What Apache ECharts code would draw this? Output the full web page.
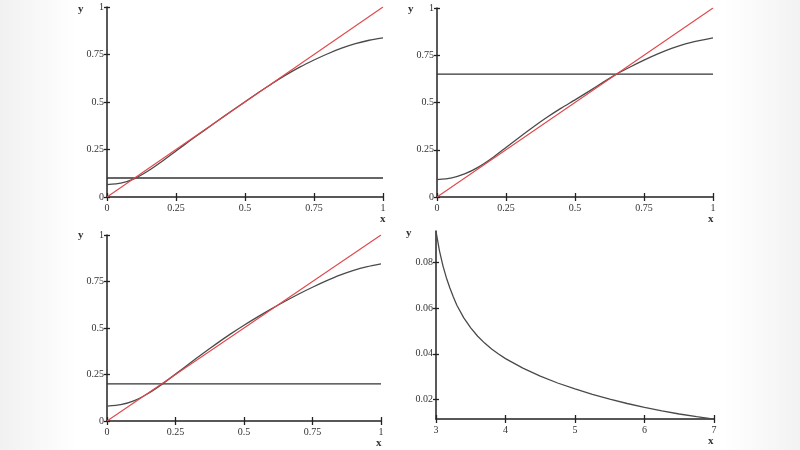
<!DOCTYPE html>
<html><head><meta charset="utf-8">
<script src="https://cdn.jsdelivr.net/npm/echarts@6/dist/echarts.min.js"></script>
<style>html,body{margin:0;padding:0;background:#fff}#c{width:800px;height:450px}</style>
</head><body><div id="c"></div>
<script>
// ---- data ----
const xsUnit = [0,0.05,0.1,0.15,0.2,0.25,0.3,0.35,0.4,0.45,0.5,0.55,0.6,0.65,0.7,0.75,0.8,0.85,0.9,0.95,1.0];
const curveA = [0.065,0.073,0.097,0.138,0.188,0.242,0.296,0.348,0.400,0.451,0.501,0.551,0.599,0.644,0.685,0.721,0.754,0.783,0.807,0.825,0.838];
const curveB = [0.092,0.100,0.122,0.158,0.206,0.262,0.318,0.372,0.423,0.470,0.514,0.559,0.605,0.650,0.688,0.724,0.757,0.786,0.810,0.827,0.842];
const curveC = [0.080,0.088,0.110,0.148,0.197,0.252,0.308,0.363,0.416,0.467,0.515,0.560,0.603,0.644,0.683,0.719,0.753,0.784,0.810,0.830,0.845];
const levelA = 0.1, levelB = 0.65, levelC = 0.2;
const diagX = [0, 1], diagY = [0, 1];
const xsD = [3,3.05,3.1,3.15,3.2,3.25,3.3,3.4,3.5,3.6,3.7,3.8,3.9,4.0,4.25,4.5,4.75,5.0,5.25,5.5,5.75,6.0,6.25,6.5,6.75,7.0];
const curveD = [0.0937,0.0852,0.0786,0.0733,0.0689,0.0649,0.0613,0.0558,0.0514,0.0477,0.0447,0.0421,0.0399,0.0379,0.0337,0.0302,0.0272,0.0246,0.0222,0.0201,0.0182,0.0165,0.0150,0.0136,0.0124,0.0113];
const unitTicks = [0,0.25,0.5,0.75,1];
const dTicksX = [3,4,5,6,7];
const dTicksY = [0.02,0.04,0.06,0.08];

// ---- layout ----
const grids = [
  {left:107, top:7, width:276, height:190},
  {left:437, top:8, width:276, height:189},
  {left:107, top:235, width:274, height:186},
  {left:436, top:231, width:278, height:188}
];
const font = 'Liberation Serif';
const axColor = '#222';
function xA(i, min, max, ticks, inside){
  return {type:'value', gridIndex:i, min:min, max:max, position:'bottom',
    axisLine:{show:!inside, lineStyle:{color:axColor,width:1.5}},
    axisTick:{show:true, inside:inside, length:4, customValues:ticks, lineStyle:{color:axColor,width:1.3}},
    axisLabel:{show:!inside, customValues:ticks, color:'#333', fontFamily:font, fontSize:10, margin:6},
    splitLine:{show:false}};
}
function yA(i, min, max, ticks, inside, fmt){
  return {type:'value', gridIndex:i, min:min, max:max, position:'left',
    axisLine:{show:!inside, lineStyle:{color:axColor,width:1.5}},
    axisTick:{show:true, inside:inside, length:3, customValues:ticks, lineStyle:{color:axColor,width:1.3}},
    axisLabel:{show:!inside, customValues:ticks, color:'#333', fontFamily:font, fontSize:10, margin:3, formatter:fmt},
    splitLine:{show:false}};
}
const xAxes = [], yAxes = [];
for (let i=0;i<3;i++){
  xAxes.push(xA(i,0,1,unitTicks,false)); xAxes.push(xA(i,0,1,unitTicks,true));
  yAxes.push(yA(i,0,1,unitTicks,false)); yAxes.push(yA(i,0,1,unitTicks,true));
}
xAxes.push(xA(3,3,7,dTicksX,false)); xAxes.push(xA(3,3,7,dTicksX,true));
yAxes.push(yA(3,0.0114,0.0939,dTicksY,false,v=>v.toFixed(2))); yAxes.push(yA(3,0.0114,0.0939,dTicksY,true));

function pairs(xs, ys){ return xs.map((x,k)=>[x, ys[k]]); }
function line(i, data, color, width, smooth){
  return {type:'line', xAxisIndex:2*i, yAxisIndex:2*i, data:data, showSymbol:false, smooth:smooth,
    lineStyle:{color:color, width:width}, silent:true, animation:false, z:3};
}
const red = '#e0474c', dark = '#4a4a4a', hline = '#333';
const levels = [levelA, levelB, levelC];
const curves = [curveA, curveB, curveC];
const series = [];
for (let i=0;i<3;i++){
  series.push(line(i, [[0,levels[i]],[1,levels[i]]], hline, 1.3, false));
  series.push(line(i, pairs(xsUnit, curves[i]), dark, 1.3, 0.2));
  series.push(line(i, pairs(diagX, diagY), red, 1.1, false));
}
series.push(line(3, pairs(xsD, curveD), dark, 1.3, false));

const graphic = [
  {type:'rect', left:0, top:0, z:-10, shape:{width:75, height:450},
   style:{fill:new echarts.graphic.LinearGradient(0,0,1,0,[{offset:0,color:'#f1f1f1'},{offset:1,color:'#ffffff'}])}},
  {type:'rect', left:725, top:0, z:-10, shape:{width:75, height:450},
   style:{fill:new echarts.graphic.LinearGradient(0,0,1,0,[{offset:0,color:'#ffffff'},{offset:1,color:'#f2f2f2'}])}}
];
const labelPos = [[78,4,380,214],[408,4,708,214],[78,230,376,438],[406,228,708,436]];
labelPos.forEach(p=>{
  graphic.push({type:'text', left:p[0], top:p[1], style:{text:'y', font:'bold 11px "Liberation Serif"', fill:'#333'}});
  graphic.push({type:'text', left:p[2], top:p[3], style:{text:'x', font:'bold 11px "Liberation Serif"', fill:'#333'}});
});

const chart = echarts.init(document.getElementById('c'), null, {renderer:'canvas'});
chart.setOption({
  backgroundColor:'#fff', animation:false,
  grid: grids, xAxis: xAxes, yAxis: yAxes, series: series, graphic: graphic
});
</script></body></html>
